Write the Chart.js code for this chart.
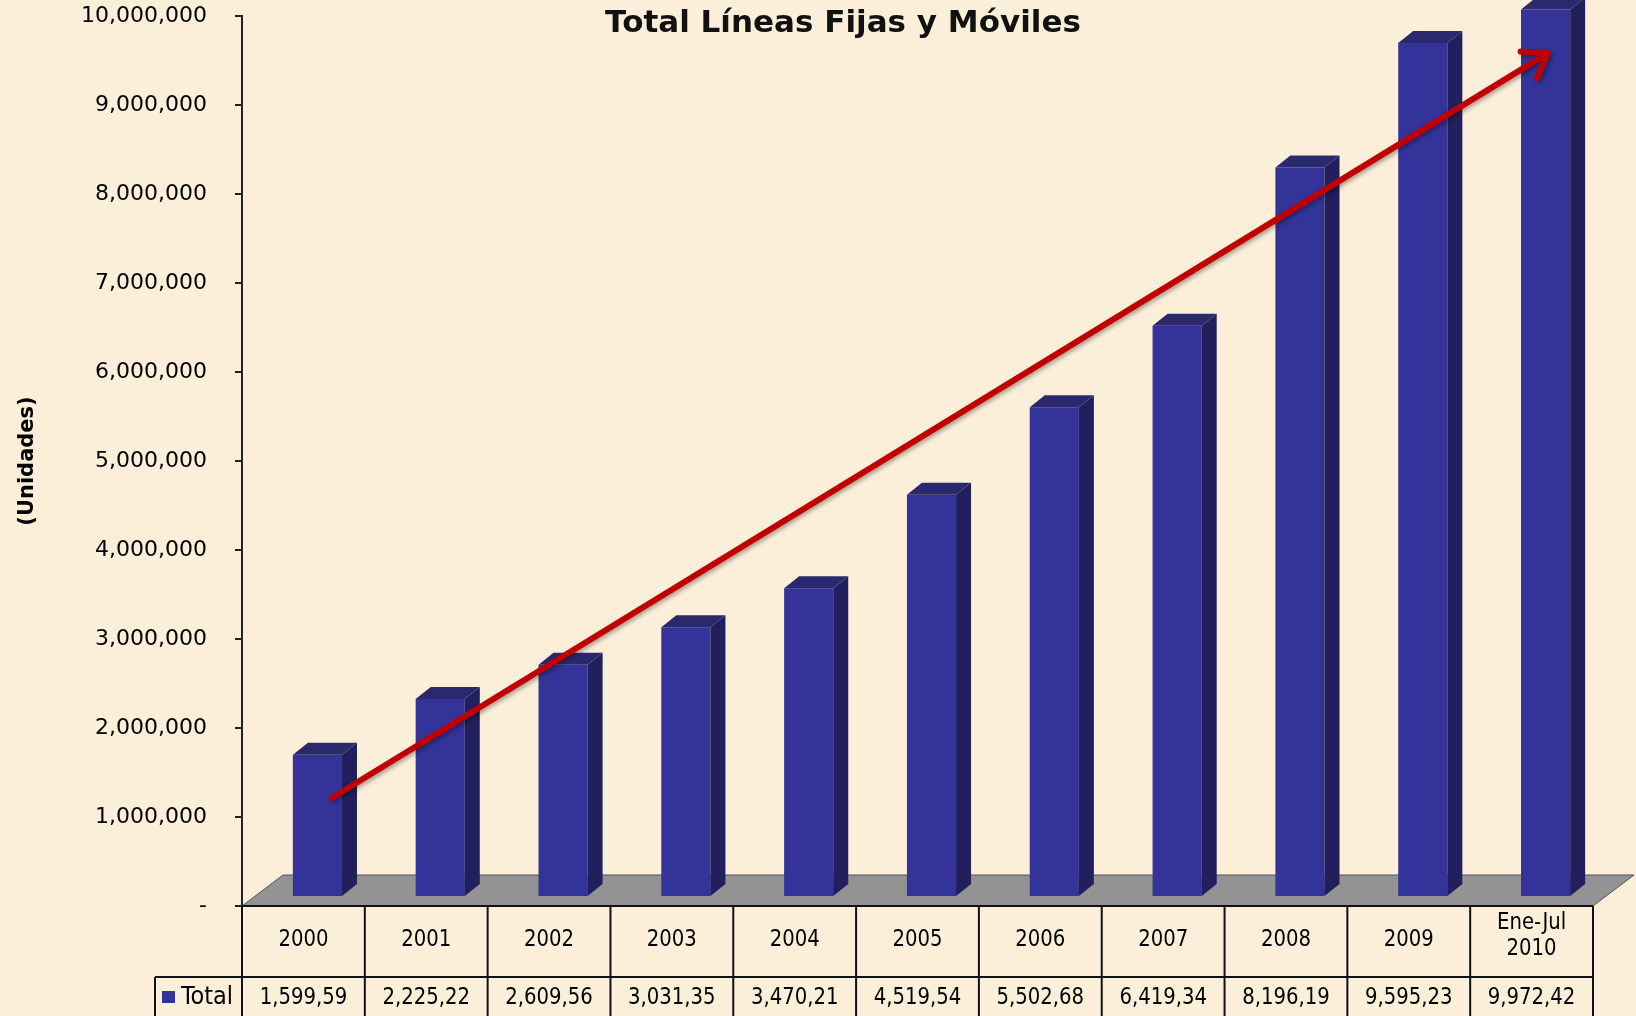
<!DOCTYPE html>
<html>
<head>
<meta charset="utf-8">
<script src="https://cdn.jsdelivr.net/npm/chart.js@4/dist/chart.umd.min.js"></script>
<style>
  html, body { margin: 0; padding: 0; background: #fcefd9; }
  #wrap { width: 1636px; height: 1016px; position: relative; }
</style>
</head>
<body>
<div id="wrap"><canvas id="chart" width="1636" height="1016"></canvas></div>
<script>
// Data
const categories = ["2000", "2001", "2002", "2003", "2004", "2005", "2006", "2007", "2008", "2009", ["Ene-Jul", "2010"]];
const totals = [1599590, 2225220, 2609560, 3031350, 3470210, 4519540, 5502680, 6419340, 8196190, 9595230, 9972420];
const yMax = 10000000;
const yStep = 1000000;

// Trend arrow, in category index / value units
const arrowIdx = [0.23, 10.13];
const arrowVal = [1213000, 9580000];

const FRONT = "#333399";
const SIDE = "#211f5c";
const TOP = "#2a296e";
const BAR_SHIFT = { x: 14, y: -9 };
const BAR_DEPTH = { x: 15, y: -12 };
const FLOOR_DEPTH = { x: 41, y: -31 };

// Floor, 3D faces, arrow, table and title
const extras = {
  id: "extras",
  beforeDatasetsDraw(chart) {
    const ctx = chart.ctx;
    const { left, right, bottom } = chart.chartArea;
    ctx.save();
    ctx.beginPath();
    ctx.moveTo(left, bottom);
    ctx.lineTo(right, bottom);
    ctx.lineTo(right + FLOOR_DEPTH.x, bottom + FLOOR_DEPTH.y);
    ctx.lineTo(left + FLOOR_DEPTH.x, bottom + FLOOR_DEPTH.y);
    ctx.closePath();
    ctx.fillStyle = "#939393";
    ctx.fill();
    ctx.strokeStyle = "#555";
    ctx.lineWidth = 1;
    ctx.stroke();
    ctx.restore();
  },
  beforeDatasetDraw(chart) {
    chart.ctx.save();
    chart.ctx.translate(BAR_SHIFT.x, BAR_SHIFT.y);
  },
  afterDatasetDraw(chart, args) {
    const ctx = chart.ctx;
    args.meta.data.forEach(el => {
      const { x, y, base, width } = el.getProps(["x", "y", "base", "width"], true);
      const l = x - width / 2, r = x + width / 2;
      // side face
      ctx.beginPath();
      ctx.moveTo(r, y);
      ctx.lineTo(r + BAR_DEPTH.x, y + BAR_DEPTH.y);
      ctx.lineTo(r + BAR_DEPTH.x, base + BAR_DEPTH.y);
      ctx.lineTo(r, base);
      ctx.closePath();
      ctx.fillStyle = SIDE;
      ctx.fill();
      // top face
      ctx.beginPath();
      ctx.moveTo(l, y);
      ctx.lineTo(l + BAR_DEPTH.x, y + BAR_DEPTH.y);
      ctx.lineTo(r + BAR_DEPTH.x, y + BAR_DEPTH.y);
      ctx.lineTo(r, y);
      ctx.closePath();
      ctx.fillStyle = TOP;
      ctx.fill();
    });
    ctx.restore();
  },
  afterDatasetsDraw(chart) {
    const ctx = chart.ctx;
    const xs = chart.scales.x, ys = chart.scales.y;
    const x0 = xs.getPixelForValue(arrowIdx[0]), y0 = ys.getPixelForValue(arrowVal[0]);
    const x1 = xs.getPixelForValue(arrowIdx[1]), y1 = ys.getPixelForValue(arrowVal[1]);
    const ang = Math.atan2(y1 - y0, x1 - x0);
    const head = 27, spread = 0.62;
    ctx.save();
    ctx.strokeStyle = "#c00000";
    ctx.lineWidth = 6;
    ctx.lineCap = "round";
    ctx.lineJoin = "round";
    ctx.shadowColor = "rgba(0,0,0,0.35)";
    ctx.shadowBlur = 4;
    ctx.shadowOffsetX = 2;
    ctx.shadowOffsetY = 2;
    ctx.beginPath();
    ctx.moveTo(x0, y0);
    ctx.lineTo(x1, y1);
    ctx.moveTo(x1 - head * Math.cos(ang - spread), y1 - head * Math.sin(ang - spread));
    ctx.lineTo(x1, y1);
    ctx.lineTo(x1 - head * Math.cos(ang + spread), y1 - head * Math.sin(ang + spread));
    ctx.stroke();
    ctx.restore();
  },
  afterDraw(chart) {
    const ctx = chart.ctx;
    const xs = chart.scales.x;
    const { left, right, bottom } = chart.chartArea;
    const half = (xs.getPixelForValue(1) - xs.getPixelForValue(0)) / 2;
    const rowSplit = bottom + 71;
    const legendLeft = 155;
    const H = chart.height;

    ctx.save();
    ctx.strokeStyle = "#111";
    ctx.lineWidth = 2;
    ctx.beginPath();
    ctx.moveTo(left, bottom); ctx.lineTo(right, bottom);
    ctx.moveTo(legendLeft, rowSplit); ctx.lineTo(right, rowSplit);
    ctx.moveTo(legendLeft, rowSplit); ctx.lineTo(legendLeft, H);
    ctx.moveTo(left, bottom); ctx.lineTo(left, H);
    categories.forEach((c, i) => {
      const bx = xs.getPixelForValue(i) + half;
      ctx.moveTo(bx, bottom); ctx.lineTo(bx, H);
    });
    ctx.stroke();

    ctx.fillStyle = "#000";
    ctx.font = '23px "DejaVu Sans Condensed", "DejaVu Sans", sans-serif';
    ctx.textAlign = "center";
    ctx.textBaseline = "middle";
    categories.forEach((c, i) => {
      const cx = xs.getPixelForValue(i);
      ctx.save();
      ctx.translate(cx, 0);
      ctx.scale(0.95, 1);
      if (Array.isArray(c)) {
        ctx.fillText(c[0], 0, bottom + 17);
        ctx.fillText(c[1], 0, bottom + 43);
      } else {
        ctx.fillText(c, 0, bottom + 34);
      }
      const txt = totals[i].toLocaleString("en-US").slice(0, -1);
      ctx.fillText(txt, 0, rowSplit + 21);
      ctx.restore();
    });

    // legend key
    ctx.fillStyle = FRONT;
    ctx.fillRect(162, rowSplit + 14, 13, 12);
    ctx.fillStyle = "#000";
    ctx.textAlign = "left";
    ctx.font = '25px "DejaVu Sans Condensed", "DejaVu Sans", sans-serif';
    ctx.fillText("Total", 181, rowSplit + 20);

    // title
    ctx.font = 'bold 31px "DejaVu Sans", sans-serif';
    ctx.textAlign = "center";
    ctx.textBaseline = "alphabetic";
    ctx.fillStyle = "#111";
    ctx.fillText("Total Líneas Fijas y Móviles", 843, 32);
    ctx.restore();
  }
};

new Chart(document.getElementById("chart"), {
  type: "bar",
  data: {
    labels: categories,
    datasets: [{
      label: "Total",
      data: totals,
      backgroundColor: FRONT,
      borderWidth: 0,
      barPercentage: 0.4,
      categoryPercentage: 1,
      clip: false
    }]
  },
  options: {
    responsive: false,
    animation: false,
    layout: { padding: { left: 0, top: 16, right: 43, bottom: 0 } },
    plugins: {
      legend: { display: false },
      tooltip: { enabled: false }
    },
    scales: {
      x: {
        ticks: { display: false },
        grid: { display: false },
        border: { display: false },
        afterFit(s) { s.height = 110; }
      },
      y: {
        min: 0,
        max: yMax,
        ticks: {
          stepSize: yStep,
          color: "#000",
          padding: 28,
          font: { family: "DejaVu Sans", size: 22 },
          callback: v => v === 0 ? "-" : v.toLocaleString("en-US")
        },
        grid: { drawOnChartArea: false, tickLength: 7, color: "#222", lineWidth: 2 },
        border: { display: true, color: "#222", width: 2 },
        title: {
          display: true,
          text: "(Unidades)",
          color: "#000",
          font: { family: "DejaVu Sans", size: 21, weight: "bold" },
          padding: { top: 15, bottom: 0 }
        },
        afterFit(s) {
          s.width = 242;
          s.paddingTop = 0;
          s.paddingBottom = 0;
        }
      }
    }
  },
  plugins: [extras]
});
</script>
</body>
</html>
